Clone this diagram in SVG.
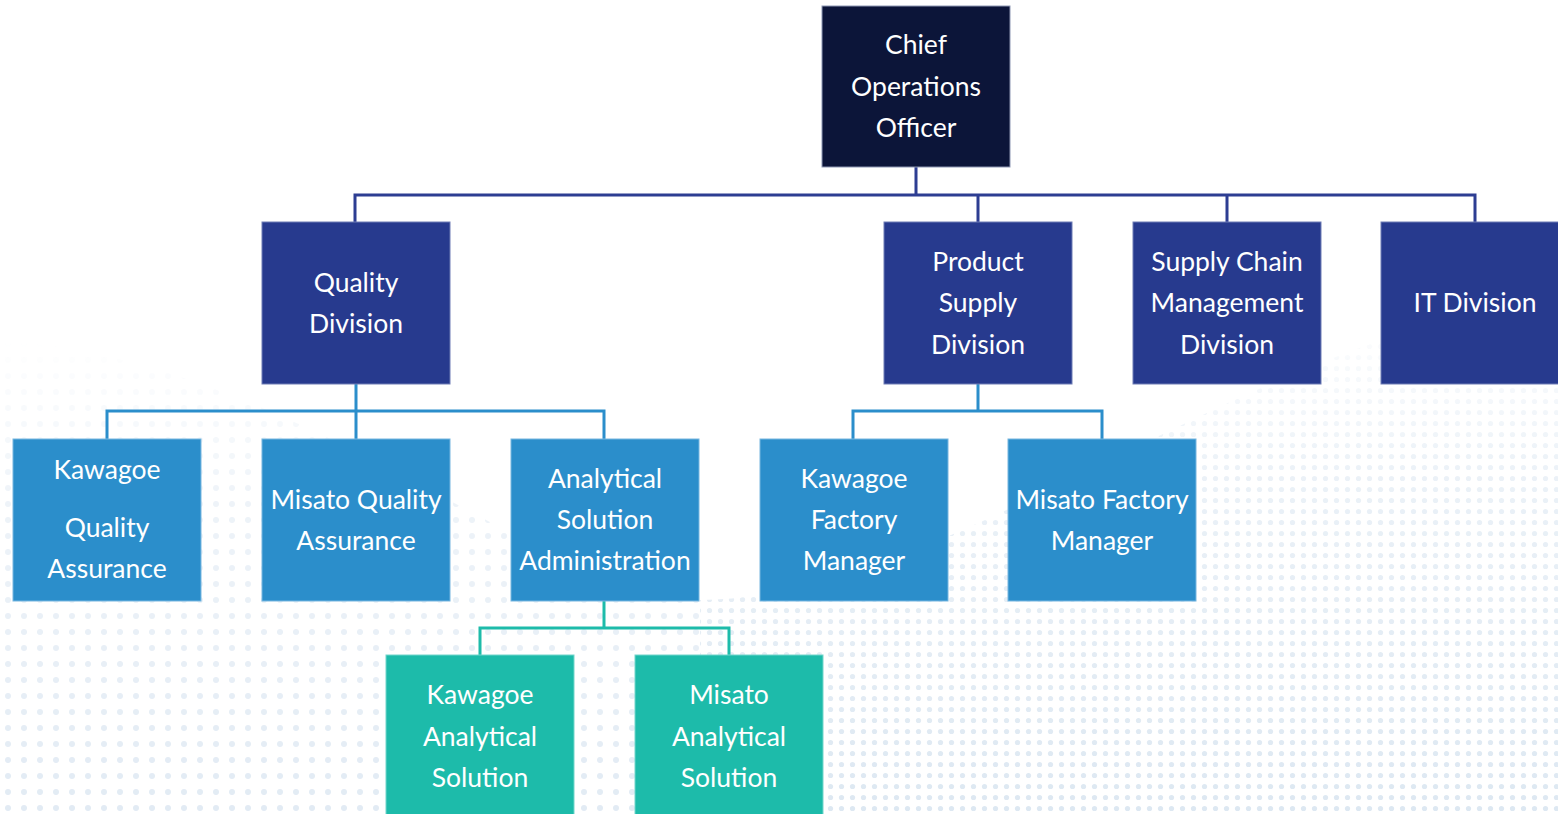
<svg xmlns="http://www.w3.org/2000/svg" width="1558" height="814" viewBox="0 0 1558 814">
<style>
.t{font-family:Lato,"Open Sans","Liberation Sans",sans-serif;font-size:26.5px;fill:#ffffff;text-anchor:middle}
.n0{fill:#0c1539;stroke:#8e97b3;stroke-width:1}
.n1{fill:#273a8e;stroke:#6f7db5;stroke-width:1}
.n2{fill:#2b8ecb;stroke:#76b6e0;stroke-width:1}
.n3{fill:#1dbbaa;stroke:#72d6cb;stroke-width:1}
.c1{fill:none;stroke:#2d3d92;stroke-width:3}
.c2{fill:none;stroke:#2b8ecb;stroke-width:3}
.c3{fill:none;stroke:#1dbbaa;stroke-width:3}
</style>
<defs>
<pattern id="dots" width="11" height="11" patternUnits="userSpaceOnUse">
<circle cx="5.5" cy="5.5" r="2.6" fill="#dde8f2"/>
</pattern>
<pattern id="dots2" width="16" height="16" patternUnits="userSpaceOnUse">
<circle cx="8" cy="8" r="3" fill="#e2ebf4"/>
</pattern>
<linearGradient id="fade" x1="0" y1="0" x2="0" y2="1">
<stop offset="0" stop-color="#fff" stop-opacity="0"/>
<stop offset="0.35" stop-color="#fff" stop-opacity="0.6"/>
<stop offset="1" stop-color="#fff" stop-opacity="1"/>
</linearGradient>
<mask id="m">
<path d="M700,600 C950,600 1250,330 1558,300 L1558,814 L700,814 Z" fill="url(#fade)"/>
</mask>
<mask id="m2">
<path d="M0,340 C300,360 550,600 700,600 L700,814 L0,814 Z" fill="url(#fade)"/>
</mask>
</defs>
<rect width="1558" height="814" fill="#ffffff"/>
<rect width="1558" height="814" fill="url(#dots)" mask="url(#m)"/>
<rect width="1558" height="814" fill="url(#dots2)" mask="url(#m2)"/>

<g id="connectors">
<path class="c1" d="M916,167 V195 M355,222 V195 H1475 V222 M978,195 V222 M1227,195 V222"/>
<path class="c2" d="M356,384 V411 M107,439 V411 H604 V439 M356,411 V439"/>
<path class="c2" d="M978,384 V411 M853,439 V411 H1102 V439"/>
<path class="c3" d="M604,601 V628 M480,655 V628 H729 V655"/>
</g>

<g id="coo"><rect class="n0" x="822" y="6" width="188" height="161"/>
<text class="t" x="916" y="54">Chief</text><text class="t" x="916" y="96">Operations</text><text class="t" x="916" y="137">Officer</text></g>

<g id="quality-division"><rect class="n1" x="262" y="222" width="188" height="162"/>
<text class="t" x="356" y="292">Quality</text><text class="t" x="356" y="333">Division</text></g>

<g id="product-supply-division"><rect class="n1" x="884" y="222" width="188" height="162"/>
<text class="t" x="978" y="271">Product</text><text class="t" x="978" y="312">Supply</text><text class="t" x="978" y="354">Division</text></g>

<g id="supply-chain-division"><rect class="n1" x="1133" y="222" width="188" height="162"/>
<text class="t" x="1227" y="271">Supply Chain</text><text class="t" x="1227" y="312">Management</text><text class="t" x="1227" y="354">Division</text></g>

<g id="it-division"><rect class="n1" x="1381" y="222" width="188" height="162"/>
<text class="t" x="1475" y="312">IT Division</text></g>

<g id="kawagoe-qa"><rect class="n2" x="13" y="439" width="188" height="162"/>
<text class="t" x="107" y="479">Kawagoe</text><text class="t" x="107" y="537">Quality</text><text class="t" x="107" y="578">Assurance</text></g>

<g id="misato-qa"><rect class="n2" x="262" y="439" width="188" height="162"/>
<text class="t" x="356" y="509">Misato Quality</text><text class="t" x="356" y="550">Assurance</text></g>

<g id="analytical-admin"><rect class="n2" x="511" y="439" width="188" height="162"/>
<text class="t" x="605" y="488">Analytical</text><text class="t" x="605" y="529">Solution</text><text class="t" x="605" y="570">Administration</text></g>

<g id="kawagoe-factory"><rect class="n2" x="760" y="439" width="188" height="162"/>
<text class="t" x="854" y="488">Kawagoe</text><text class="t" x="854" y="529">Factory</text><text class="t" x="854" y="570">Manager</text></g>

<g id="misato-factory"><rect class="n2" x="1008" y="439" width="188" height="162"/>
<text class="t" x="1102" y="509">Misato Factory</text><text class="t" x="1102" y="550">Manager</text></g>

<g id="kawagoe-analytical"><rect class="n3" x="386" y="655" width="188" height="165"/>
<text class="t" x="480" y="704">Kawagoe</text><text class="t" x="480" y="746">Analytical</text><text class="t" x="480" y="787">Solution</text></g>

<g id="misato-analytical"><rect class="n3" x="635" y="655" width="188" height="165"/>
<text class="t" x="729" y="704">Misato</text><text class="t" x="729" y="746">Analytical</text><text class="t" x="729" y="787">Solution</text></g>
</svg>
